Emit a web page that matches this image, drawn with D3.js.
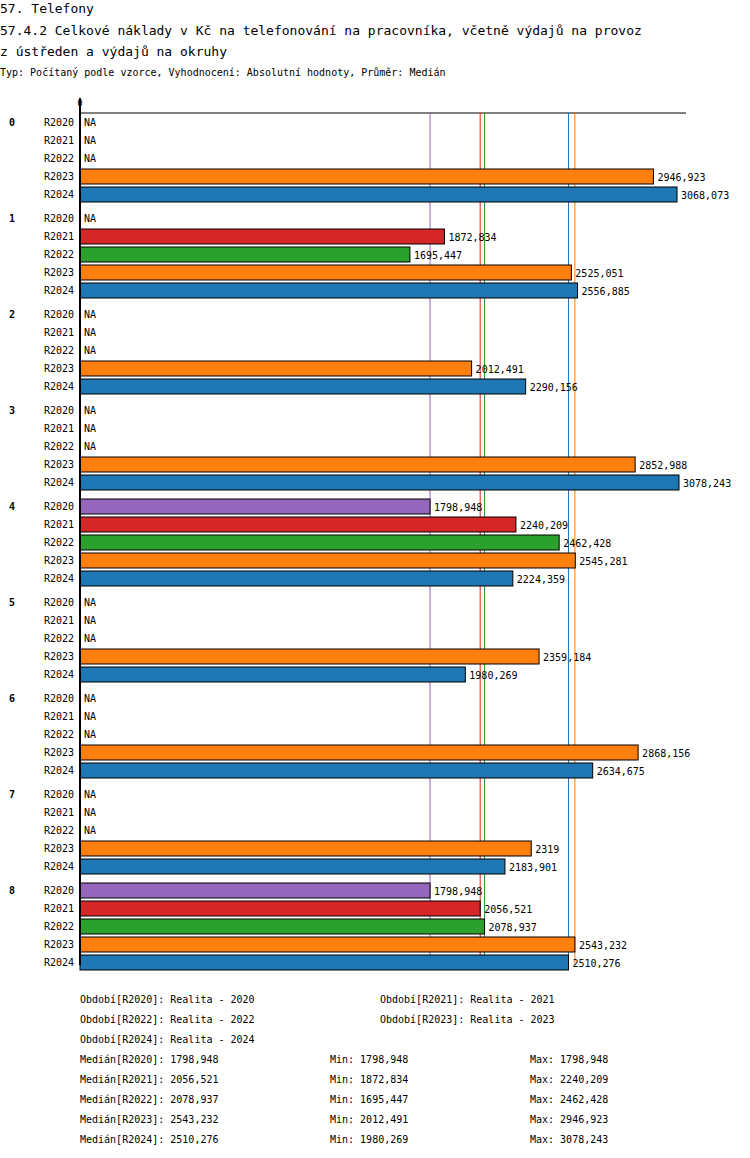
<!DOCTYPE html>
<html><head><meta charset="utf-8">
<script src="https://cdn.jsdelivr.net/npm/d3@7"></script>
<style>body{margin:0;background:#fff}text{font-family:"DejaVu Sans Mono",monospace}</style>
</head><body><svg id="c" width="750" height="1158"></svg>
<script>
var groups = ['0', '1', '2', '3', '4', '5', '6', '7', '8'];
var periods = ['R2020', 'R2021', 'R2022', 'R2023', 'R2024'];
var colors = ['#9467bd', '#d62728', '#2ca02c', '#ff7f0e', '#1f77b4'];
// values per group, per period (null = NA)
var values = [
    [null, null, null, 2946.923, 3068.073],
    [null, 1872.834, 1695.447, 2525.051, 2556.885],
    [null, null, null, 2012.491, 2290.156],
    [null, null, null, 2852.988, 3078.243],
    [1798.948, 2240.209, 2462.428, 2545.281, 2224.359],
    [null, null, null, 2359.184, 1980.269],
    [null, null, null, 2868.156, 2634.675],
    [null, null, null, 2319, 2183.901],
    [1798.948, 2056.521, 2078.937, 2543.232, 2510.276]
];
var medians = [1798.948, 2056.521, 2078.937, 2543.232, 2510.276];
var mins = [1798.948, 1872.834, 1695.447, 2012.491, 1980.269];
var maxs = [1798.948, 2240.209, 2462.428, 2946.923, 3078.243];
var legendNames = ['Realita - 2020', 'Realita - 2021', 'Realita - 2022', 'Realita - 2023', 'Realita - 2024'];

var svg = d3.select('#c');
var fmt = function (v) { return String(v).replace('.', ','); };
var x = d3.scaleLinear().domain([0, 3078.243]).range([80, 679]);
var rowStep = 18, groupStep = 96, top0 = 113;

svg.append('text').attr('x', 0).attr('y', 13).style('font-size', '13px').text('57. Telefony');
svg.append('text').attr('x', 0).attr('y', 35).style('font-size', '13px')
    .text('57.4.2 Celkové náklady v Kč na telefonování na pracovníka, včetně výdajů na provoz');
svg.append('text').attr('x', 0).attr('y', 56).style('font-size', '13px').text('z ústředen a výdajů na okruhy');
svg.append('text').attr('x', 0).attr('y', 76).style('font-size', '10px')
    .text('Typ: Počítaný podle vzorce, Vyhodnocení: Absolutní hodnoty, Průměr: Medián');

var plotBottom = top0 + groups.length * groupStep - 12;
svg.append('line').attr('x1', 80).attr('x2', 686).attr('y1', top0).attr('y2', top0).attr('stroke', '#000');
svg.append('text').attr('x', 80).attr('y', 106).attr('text-anchor', 'middle').style('font-size', '9px').text('0');

// median lines
medians.forEach(function (m, i) {
    svg.append('line').attr('x1', x(m)).attr('x2', x(m)).attr('y1', top0).attr('y2', plotBottom)
        .attr('stroke', colors[i]).attr('stroke-width', 1);
});

groups.forEach(function (g, gi) {
    var gy = top0 + gi * groupStep;
    svg.append('text').attr('x', 9).attr('y', gy + 13).style('font-size', '10px').style('font-weight', 'bold').text(g);
    periods.forEach(function (p, pi) {
        var y = gy + 2 + pi * rowStep;
        svg.append('text').attr('x', 74).attr('y', y + 11).attr('text-anchor', 'end').style('font-size', '10px').text(p);
        var v = values[gi][pi];
        if (v === null) {
            svg.append('text').attr('x', 84).attr('y', y + 11).style('font-size', '10px').text('NA');
        } else {
            svg.append('rect').attr('x', x(0)).attr('y', y).attr('width', x(v) - x(0)).attr('height', 15)
                .attr('fill', colors[pi]).attr('stroke', '#000');
            svg.append('text').attr('x', x(v) + 4).attr('y', y + 12).style('font-size', '10px').text(fmt(v));
        }
    });
});
svg.append('line').attr('x1', 80).attr('x2', 80).attr('y1', 98).attr('y2', plotBottom).attr('stroke', '#000').attr('stroke-width', 2);

// legend
periods.forEach(function (p, i) {
    var lx = i % 2 === 0 ? 80 : 380;
    var ly = 1003 + Math.floor(i / 2) * 20;
    svg.append('text').attr('x', lx).attr('y', ly).style('font-size', '10px')
        .text('Období[' + p + ']: ' + legendNames[i]);
});
periods.forEach(function (p, i) {
    var ly = 1063 + i * 20;
    svg.append('text').attr('x', 80).attr('y', ly).style('font-size', '10px').text('Medián[' + p + ']: ' + fmt(medians[i]));
    svg.append('text').attr('x', 330).attr('y', ly).style('font-size', '10px').text('Min: ' + fmt(mins[i]));
    svg.append('text').attr('x', 530).attr('y', ly).style('font-size', '10px').text('Max: ' + fmt(maxs[i]));
});
</script></body></html>
